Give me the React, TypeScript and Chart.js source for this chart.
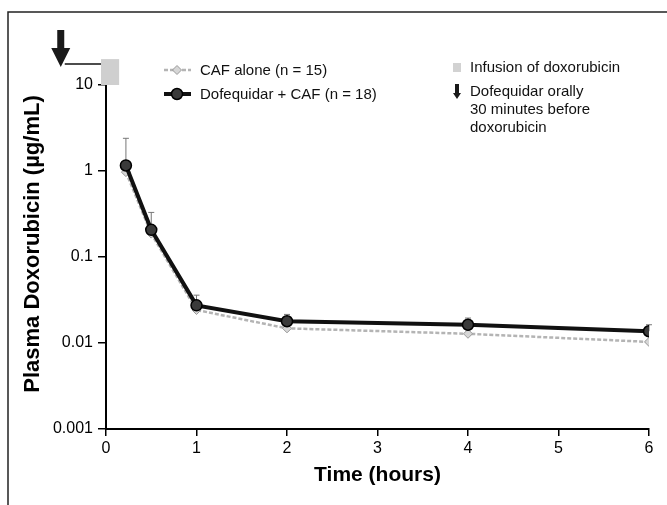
import React, { useEffect, useRef } from "react";
import { Chart, registerables } from "chart.js";

Chart.register(...registerables);

// ---- data ----
const timesHours = [0.22, 0.5, 1, 2, 4, 6];
const dofequidarCaf = [1.16, 0.207, 0.0274, 0.0179, 0.0163, 0.0137];
const dofequidarCafUpper = [2.4, 0.33, 0.036, 0.0215, 0.0195, 0.0163];
const cafAlone = [0.97, 0.187, 0.0242, 0.0148, 0.0128, 0.0103];
const yTickValues = [0.001, 0.01, 0.1, 1, 10];
const xTickValues = [0, 1, 2, 3, 4, 5, 6];
const seriesLabels = ["CAF alone (n = 15)", "Dofequidar + CAF (n = 18)"];
const noteLabels = ["Infusion of doxorubicin", "Dofequidar orally", "30 minutes before", "doxorubicin"];
const xTitle = "Time (hours)";
const yTitle = "Plasma Doxorubicin (µg/mL)";

// dosing events (hours / µg/mL) used for the timeline annotation
const dofequidarDoseTime = -0.5;
const infusionStart = -0.055;
const infusionEnd = 0.145;
const infusionLow = 10;
const infusionHigh = 20;
const timelineLevel = 17.5;

const SANS = "'Liberation Sans', Arial, Helvetica, sans-serif";
const NARROW = "'Liberation Sans Narrow', 'Liberation Sans', Arial, sans-serif";

const BLACK = "#111";
const GRAY = "#b4b4b4";

function drawArrow(ctx: CanvasRenderingContext2D, cx: number, top: number, tip: number, shaftW: number, headW: number, headH: number) {
  ctx.beginPath();
  ctx.moveTo(cx - shaftW / 2, top);
  ctx.lineTo(cx + shaftW / 2, top);
  ctx.lineTo(cx + shaftW / 2, tip - headH);
  ctx.lineTo(cx + headW / 2, tip - headH);
  ctx.lineTo(cx, tip);
  ctx.lineTo(cx - headW / 2, tip - headH);
  ctx.lineTo(cx - shaftW / 2, tip - headH);
  ctx.closePath();
  ctx.fill();
}

const decorPlugin = {
  id: "decor",
  beforeDraw(chart: any) {
    const ctx = chart.ctx as CanvasRenderingContext2D;
    ctx.save();
    ctx.strokeStyle = "#222";
    ctx.lineWidth = 1.5;
    ctx.beginPath();
    ctx.moveTo(8, 505);
    ctx.lineTo(8, 12);
    ctx.lineTo(667, 12);
    ctx.stroke();
    ctx.restore();
  },
  beforeDatasetsDraw(chart: any) {
    const ctx = chart.ctx as CanvasRenderingContext2D;
    const xs = chart.scales.x;
    const ys = chart.scales.y;
    ctx.save();
    ctx.strokeStyle = "#777";
    ctx.lineWidth = 1;
    timesHours.forEach((t, i) => {
      const px = xs.getPixelForValue(t);
      const y0 = ys.getPixelForValue(dofequidarCaf[i]);
      const y1 = ys.getPixelForValue(dofequidarCafUpper[i]);
      ctx.beginPath();
      ctx.moveTo(px, y0);
      ctx.lineTo(px, y1);
      ctx.moveTo(px - 3, y1);
      ctx.lineTo(px + 3, y1);
      ctx.stroke();
    });
    ctx.restore();
  },
  afterDraw(chart: any) {
    const ctx = chart.ctx as CanvasRenderingContext2D;
    const xs = chart.scales.x;
    const ys = chart.scales.y;
    ctx.save();
    // y-axis title
    ctx.save();
    ctx.translate(33, 244);
    ctx.rotate(-Math.PI / 2);
    ctx.font = `bold 22px ${NARROW}`;
    ctx.fillStyle = "#000";
    ctx.textAlign = "center";
    ctx.textBaseline = "middle";
    ctx.fillText(yTitle, 0, 0);
    ctx.restore();

    // timeline: dofequidar dose arrow and infusion box
    const ax = xs.getPixelForValue(dofequidarDoseTime);
    const ly = ys.getPixelForValue(timelineLevel);
    const bx0 = xs.getPixelForValue(infusionStart);
    const bx1 = xs.getPixelForValue(infusionEnd);
    const by0 = ys.getPixelForValue(infusionHigh);
    const by1 = ys.getPixelForValue(infusionLow);
    ctx.strokeStyle = BLACK;
    ctx.lineWidth = 1.5;
    ctx.beginPath();
    ctx.moveTo(ax + 4, ly);
    ctx.lineTo(bx0, ly);
    ctx.stroke();
    ctx.fillStyle = "#cfcfcf";
    ctx.fillRect(bx0, by0, bx1 - bx0, by1 - by0);
    ctx.fillStyle = "#1a1a1a";
    drawArrow(ctx, ax, 30, 67, 7, 19, 19);

    // legend (series)
    const ds = [chart.data.datasets[1], chart.data.datasets[0]];
    const rows = [70, 94];
    ctx.font = `15px ${SANS}`;
    ctx.textBaseline = "middle";
    ctx.textAlign = "left";
    for (let i = 0; i < 2; i++) {
      const d: any = ds[i];
      const y = rows[i];
      ctx.save();
      ctx.strokeStyle = d.borderColor;
      ctx.lineWidth = d.borderWidth;
      if (d.borderDash) ctx.setLineDash(d.borderDash);
      ctx.beginPath();
      ctx.moveTo(164, y);
      ctx.lineTo(191, y);
      ctx.stroke();
      ctx.restore();
      ctx.save();
      ctx.fillStyle = d.pointBackgroundColor;
      ctx.strokeStyle = d.pointBorderColor;
      ctx.lineWidth = d.pointBorderWidth;
      const r = d.pointRadius;
      ctx.beginPath();
      if (d.pointStyle === "rectRot") {
        ctx.moveTo(177, y - r);
        ctx.lineTo(177 + r, y);
        ctx.lineTo(177, y + r);
        ctx.lineTo(177 - r, y);
        ctx.closePath();
      } else {
        ctx.arc(177, y, r, 0, Math.PI * 2);
      }
      ctx.fill();
      ctx.stroke();
      ctx.restore();
      ctx.fillStyle = "#111";
      ctx.fillText(seriesLabels[i], 200, y + 1);
    }

    // legend (events)
    ctx.fillStyle = "#d2d2d2";
    ctx.fillRect(453, 63, 8, 9);
    ctx.fillStyle = "#1a1a1a";
    drawArrow(ctx, 457, 84, 99, 4, 8, 6);
    ctx.fillStyle = "#111";
    ctx.font = `15px ${SANS}`;
    ctx.fillText(noteLabels[0], 470, 68);
    ctx.fillText(noteLabels[1], 470, 92);
    ctx.fillText(noteLabels[2], 470, 110);
    ctx.fillText(noteLabels[3], 470, 128);
    ctx.restore();
  },
};

export default function App() {
  const ref = useRef<HTMLCanvasElement | null>(null);
  useEffect(() => {
    document.body.style.margin = "0";
    if (!ref.current) return;
    const chart = new Chart(ref.current, {
      type: "scatter",
      data: {
        datasets: [
          {
            label: seriesLabels[1],
            data: timesHours.map((t, i) => ({ x: t, y: dofequidarCaf[i] })),
            showLine: true,
            borderColor: BLACK,
            borderWidth: 4,
            pointRadius: 5.5,
            pointStyle: "circle",
            pointBackgroundColor: "#3a3a3a",
            pointBorderColor: "#000",
            pointBorderWidth: 1.5,
            order: 0,
          } as any,
          {
            label: seriesLabels[0],
            data: timesHours.map((t, i) => ({ x: t, y: cafAlone[i] })),
            showLine: true,
            borderColor: GRAY,
            borderWidth: 2.5,
            borderDash: [4, 2],
            pointRadius: 4.5,
            pointStyle: "rectRot",
            pointBackgroundColor: "#d6d6d6",
            pointBorderColor: "#999",
            pointBorderWidth: 1,
            order: 1,
          } as any,
        ],
      },
      options: {
        animation: false,
        responsive: false,
        events: [],
        layout: { padding: { left: 0, top: 85, right: 18, bottom: 0 } },
        plugins: { legend: { display: false }, tooltip: { enabled: false } },
        scales: {
          x: {
            type: "linear",
            min: 0,
            max: 6,
            afterBuildTicks: (s: any) => {
              s.ticks = xTickValues.map((v) => ({ value: v }));
            },
            afterFit: (s: any) => {
              s.height = 76;
            },
            border: { color: "#000", width: 2 },
            grid: { drawOnChartArea: false, tickLength: 7, color: "#000", lineWidth: 1.5 },
            ticks: { color: "#000", font: { family: SANS, size: 16 }, padding: 3, maxRotation: 0 },
            title: {
              display: true,
              text: xTitle,
              color: "#000",
              font: { family: NARROW, size: 21, weight: "bold" },
              padding: { top: 0, bottom: 17 },
            },
          },
          y: {
            type: "logarithmic",
            min: 0.001,
            max: 10,
            afterBuildTicks: (s: any) => {
              s.ticks = yTickValues.map((v) => ({ value: v, major: true }));
            },
            afterFit: (s: any) => {
              s.width = 106;
            },
            border: { color: "#000", width: 2 },
            grid: { drawOnChartArea: false, tickLength: 8, color: "#000", lineWidth: 1.5 },
            ticks: {
              color: "#000",
              font: { family: SANS, size: 16 },
              padding: 5,
              callback: (v: any) => String(Number(v)),
            },
            title: { display: false },
          },
        },
      },
      plugins: [decorPlugin],
    });
    return () => chart.destroy();
  }, []);
  return (
    <div style={{ width: 667, height: 505, position: "relative" }}>
      <canvas ref={ref} width={667} height={505} style={{ width: 667, height: 505, display: "block" }} />
    </div>
  );
}
